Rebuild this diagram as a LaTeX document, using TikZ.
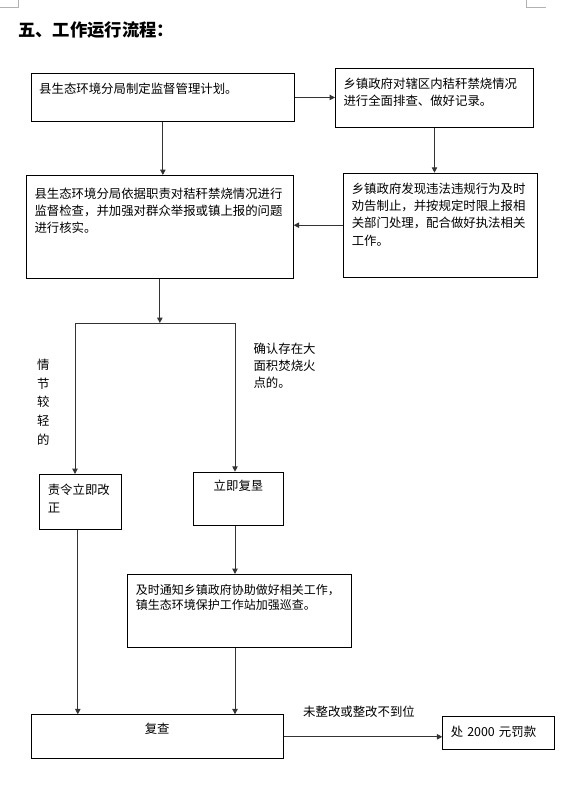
\documentclass[tikz,border=0pt]{standalone}
\usepackage{fontspec}
\setmainfont{Noto Sans CJK SC}
\usetikzlibrary{arrows.meta,positioning}

\begin{document}
\begin{tikzpicture}[x=0.75pt,y=-0.75pt,
  panel/.style={draw=black, line width=0.75pt, anchor=north west, inner xsep=6pt, inner ysep=0pt,
    align=left, font=\fontsize{9.3pt}{13pt}\selectfont, text height=15pt},
  flow/.style={draw=black!80, line width=0.75pt, -{Triangle[length=4pt,width=4pt]}},
  link/.style={draw=black!80, line width=0.75pt},
  note/.style={inner sep=0pt, font=\fontsize{9.3pt}{13pt}\selectfont},
  crop/.style={draw=gray!60, line width=0.5pt}]
  \useasboundingbox (0,0) rectangle (577,786);
  \draw[crop] (0,7) -- (18,7) -- (18,0);
  \draw[crop] (526,0) -- (526,7) -- (546,7);
  \node[anchor=west, inner sep=0pt, font=\fontsize{13pt}{15pt}\selectfont\bfseries] (title) at (18,30) {五、工作运行流程：};

  \node[panel, text width=185.5pt, text depth=20.5pt] (plan) at (30.7,73.3) {县生态环境分局制定监督管理计划。};
  \node[panel, text width=136.5pt, text depth=29.25pt] (survey) at (335,67.7) {乡镇政府对辖区内秸秆禁烧情况\\进行全面排查、做好记录。};
  \node[panel, text width=188pt, text height=17pt, text depth=60pt] (inspect) at (26,175)
    {县生态环境分局依据职责对秸秆禁烧情况进行\\监督检查，并加强对群众举报或镇上报的问题\\进行核实。};
  \node[panel, text width=133pt, text depth=63pt] (report) at (343.3,172.7)
    {乡镇政府发现违法违规行为及时\\劝告制止，并按规定时限上报相\\关部门处理，配合做好执法相关\\工作。};
  \node[panel, text width=49pt, text depth=26.5pt, font=\fontsize{9.3pt}{13.5pt}\selectfont] (correct) at (39.3,474) {责令立即改\\正};
  \node[panel, text width=56pt, align=center, text height=14pt, text depth=26pt] (reclaim) at (192.7,471.7) {立即复垦};
  \node[panel, text width=155.5pt, text depth=39.5pt, font=\fontsize{9pt}{11.5pt}\selectfont] (notify) at (127.3,574)
    {及时通知乡镇政府协助做好相关工作，\\镇生态环境保护工作站加强巡查。};
  \node[panel, text width=177pt, align=center, text height=14pt, text depth=19pt] (recheck) at (30.7,714.3) {复查};
  \node[panel, text width=71.8pt, text depth=9.75pt] (fine) at (442.3,716) {处 2000 元罚款};

  \node[note, anchor=base, text width=9.3pt, align=center, font=\fontsize{9.3pt}{14pt}\selectfont] (mild) at (43.3,369.4)
    {情\\节\\较\\轻\\的};
  \node[note, anchor=base west, text width=50pt, align=left, font=\fontsize{9.3pt}{12.75pt}\selectfont] (severe) at (253.3,353.7)
    {确认存在大\\面积焚烧火\\点的。};

  \coordinate (forkL) at (75,323);
  \coordinate (forkR) at (235,323);

  \draw[flow] (plan.east) -- (plan.east-|survey.west);
  \draw[flow] (plan.south) -- (plan.south|-inspect.north);
  \draw[flow] (survey.south) -- (survey.south|-report.north);
  \draw[flow] (report.west) -- (report.west-|inspect.east);
  \draw[flow] (inspect.south) -- (inspect.south|-forkL);
  \draw[link] (forkL) -- (forkR);
  \draw[flow] (forkL) -- (forkL|-correct.north);
  \draw[flow] (forkR) -- (forkR|-reclaim.north);
  \draw[flow] (forkR|-reclaim.south) -- (forkR|-notify.north);
  \draw[flow] ([xshift=-2pt]correct.south) -- ([xshift=-2pt]correct.south|-recheck.north);
  \draw[flow] (forkR|-notify.south) -- (forkR|-recheck.north);
  \draw[flow] (recheck.east) -- (recheck.east-|fine.west)
    node[note, midway, above=14pt, xshift=-3pt] (fail) {未整改或整改不到位};
\end{tikzpicture}
\end{document}
